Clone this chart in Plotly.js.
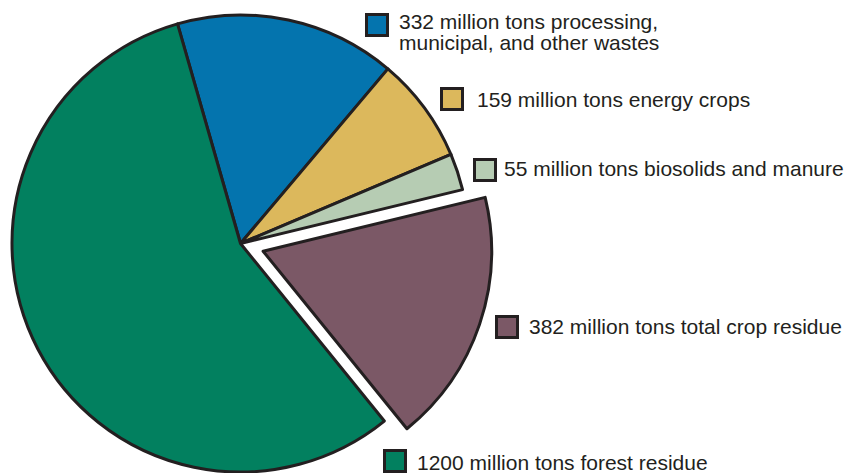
<!DOCTYPE html>
<html>
<head>
<meta charset="utf-8">
<script src="https://cdn.plot.ly/plotly-3.0.1.min.js"></script>
<style>
html,body{margin:0;padding:0;overflow:hidden;background:#fff;}
#chart{width:848px;height:482px;}
</style>
</head>
<body>
<div id="chart"></div>
<script>
// ---- data ----
const categories = ["processing, municipal, and other wastes", "energy crops", "biosolids and manure", "total crop residue", "forest residue"];
const values = [332, 159, 55, 382, 1200];
const labelLines = [
  ["332 million tons processing,", "municipal, and other wastes"],
  ["159 million tons energy crops"],
  ["55 million tons biosolids and manure"],
  ["382 million tons total crop residue"],
  ["1200 million tons forest residue"]
];
const colors = ["#0474ae", "#dcb85c", "#b6ccb3", "#7b5866", "#02805f"];
const explodedIndex = 3;

// ---- layout helpers (pixel -> paper) ----
const W = 848, H = 482;
const px = x => x / W;
const py = y => (H - y) / H;
const outline = "#231f20";

const mainColors = colors.map((c, i) => i === explodedIndex ? "rgba(0,0,0,0)" : c);
const mainWidths = colors.map((c, i) => i === explodedIndex ? 0 : 3);
const pullColors = colors.map((c, i) => i === explodedIndex ? c : "rgba(0,0,0,0)");
const pullWidths = colors.map((c, i) => i === explodedIndex ? 3 : 0);

const common = {
  type: "pie", labels: categories, values: values, sort: false,
  direction: "clockwise", rotation: -16, textinfo: "none",
  hoverinfo: "skip", showlegend: false
};

const traces = [
  Object.assign({}, common, {
    marker: {colors: mainColors, line: {color: outline, width: mainWidths}},
    domain: {x: [px(12), px(469)], y: [py(472), py(15)]}
  }),
  Object.assign({}, common, {
    marker: {colors: pullColors, line: {color: outline, width: pullWidths}},
    domain: {x: [px(34.6), px(491.6)], y: [py(479.7), py(22.7)]}
  })
];

// label positions (square box left/top, text left, text baselines)
const boxes = [[365, 13], [440, 87], [473, 158], [495, 315], [383, 449]];
const textX = [398, 476, 503, 528, 416];
const baselines = [[28.5, 49.5], [106.7], [175], [333.3], [469]];
const fs = 21;

const shapes = [], annotations = [];
boxes.forEach((b, i) => {
  shapes.push({type: "rect", xref: "paper", yref: "paper",
    x0: px(b[0] + 1.5), x1: px(b[0] + 22.5), y0: py(b[1] + 22.5), y1: py(b[1] + 1.5),
    fillcolor: colors[i], line: {color: outline, width: 3}});
  labelLines[i].forEach((t, j) => {
    annotations.push({xref: "paper", yref: "paper", x: px(textX[i]), y: py(baselines[i][j] - 7),
      xanchor: "left", yanchor: "middle", showarrow: false, text: t,
      font: {family: "Liberation Sans, Arial, sans-serif", size: fs, color: "#231f20"},
      borderpad: 0});
  });
});

const layout = {
  width: W, height: H, margin: {l: 0, r: 0, t: 0, b: 0},
  paper_bgcolor: "#fff", plot_bgcolor: "#fff",
  shapes: shapes, annotations: annotations
};

Plotly.newPlot("chart", traces, layout, {displayModeBar: false, staticPlot: true});
</script>
</body>
</html>
